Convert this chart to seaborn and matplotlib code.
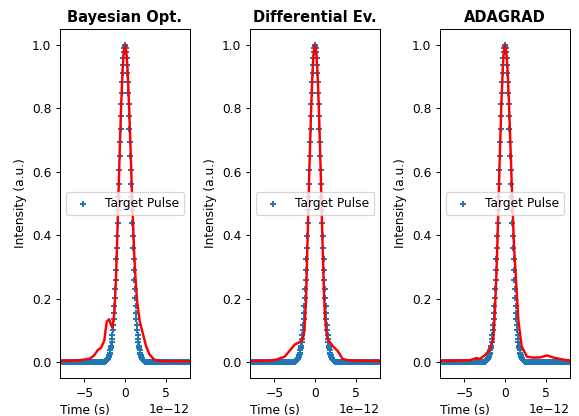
import numpy as np
import pandas as pd
import matplotlib
matplotlib.use('Agg')
import matplotlib.pyplot as plt
import seaborn as sns

# time grid (ps) and target pulse, half-profile (t = 0 .. 2.5 ps, step 0.05)
dt_ps = 0.05
time_ps = np.round(np.arange(-10.0, 10.0 + dt_ps / 2, dt_ps), 3)
target_half = [1.000, 0.997, 0.990, 0.977, 0.960, 0.938, 0.912, 0.882, 0.849, 0.813,
               0.775, 0.734, 0.693, 0.650, 0.607, 0.563, 0.520, 0.478, 0.438, 0.398,
               0.360, 0.325, 0.291, 0.259, 0.230, 0.203, 0.178, 0.156, 0.135, 0.117,
               0.101, 0.086, 0.073, 0.062, 0.052, 0.044, 0.037, 0.030, 0.025, 0.021,
               0.017, 0.014, 0.011, 0.009, 0.007, 0.006, 0.005, 0.004, 0.003, 0.002,
               0.002]

titles = ['Bayesian Opt.', 'Differential Ev.', 'ADAGRAD']

# optimised pulses (t in ps, intensity)
bo_t = [-8.5, -6.0, -4.4, -3.8, -3.35, -2.95, -2.55, -2.25, -1.95, -1.75, -1.55, -1.3,
        -1.1, -0.9, -0.7, -0.5, -0.3, -0.15, 0.0, 0.15, 0.3, 0.5, 0.7, 0.9, 1.1, 1.3,
        1.5, 1.8, 2.2, 2.6, 3.0, 3.5, 3.9, 5.0, 8.5]
bo_y = [0.003, 0.005, 0.010, 0.021, 0.038, 0.045, 0.068, 0.128, 0.135, 0.120, 0.108, 0.155,
        0.27, 0.44, 0.62, 0.79, 0.92, 0.98, 1.0, 0.98, 0.93, 0.81, 0.66, 0.50, 0.36, 0.26,
        0.19, 0.13, 0.09, 0.05, 0.025, 0.01, 0.005, 0.003, 0.003]

de_t = [-8.5, -6.0, -4.75, -3.75, -3.15, -2.5, -1.9, -1.5, -1.3, -1.1, -0.9, -0.7, -0.5,
        -0.3, -0.15, 0.0, 0.15, 0.3, 0.5, 0.7, 0.9, 1.1, 1.25, 1.45, 1.6, 2.2, 2.8, 3.4,
        4.2, 8.5]
de_y = [0.003, 0.004, 0.008, 0.017, 0.035, 0.055, 0.063, 0.072, 0.10, 0.20, 0.40, 0.60, 0.78,
        0.92, 0.98, 1.0, 0.98, 0.92, 0.78, 0.60, 0.40, 0.22, 0.14, 0.085, 0.07, 0.05, 0.035, 0.01,
        0.005, 0.003]

ada_t = [-8.5, -7.2, -4.3, -3.5, -3.1, -2.5, -1.85, -1.45, -1.25, -1.05, -0.85, -0.65, -0.45,
         -0.25, -0.1, 0.0, 0.15, 0.3, 0.5, 0.7, 0.9, 1.1, 1.35, 1.65, 2.05, 2.7, 3.5, 4.3,
         5.2, 6.0, 7.6, 8.5]
ada_y = [0.004, 0.004, 0.006, 0.013, 0.010, 0.021, 0.040, 0.071, 0.155, 0.28, 0.45, 0.64, 0.81,
         0.94, 0.99, 1.0, 0.98, 0.93, 0.81, 0.66, 0.51, 0.37, 0.26, 0.13, 0.05, 0.017, 0.014, 0.015,
         0.021, 0.014, 0.006, 0.005]

# build the target array from the listed half profile (mirrored)
n_half = len(target_half)
target = np.zeros_like(time_ps)
mid = int(np.argmin(np.abs(time_ps)))
target[mid:mid + n_half] = target_half
target[mid - n_half + 1:mid + 1] = target_half[::-1]
df_target = pd.DataFrame({'t': time_ps * 1e-12, 'I': target})

results = [(bo_t, bo_y), (de_t, de_y), (ada_t, ada_y)]

dpi = 88
fig, axes = plt.subplots(1, 3, figsize=(579 / dpi, 416 / dpi), dpi=dpi)
fig.subplots_adjust(left=60 / 579, right=570 / 579, bottom=38 / 416, top=387 / 416, wspace=60 / 130)

for ax, title, (rt, ry) in zip(axes, titles, results):
    sns.scatterplot(data=df_target, x='t', y='I', marker='+', s=32, color='#1f77b4',
                    linewidth=1.6, label='Target Pulse', ax=ax)
    df_res = pd.DataFrame({'t': np.array(rt) * 1e-12, 'I': ry})
    sns.lineplot(data=df_res, x='t', y='I', color='red', lw=2, estimator=None, ax=ax)
    ax.set_xlim(-8e-12, 8e-12)
    ax.set_ylim(-0.05, 1.05)
    ax.set_title(title, fontweight='bold', fontsize=12)
    ax.set_xlabel('Time (s)', loc='left')
    ax.set_ylabel('Intensity (a.u.)')
    ax.set_yticks([0.0, 0.2, 0.4, 0.6, 0.8, 1.0])
    ax.legend(loc='center')

fig.savefig('out.png', dpi=dpi)
